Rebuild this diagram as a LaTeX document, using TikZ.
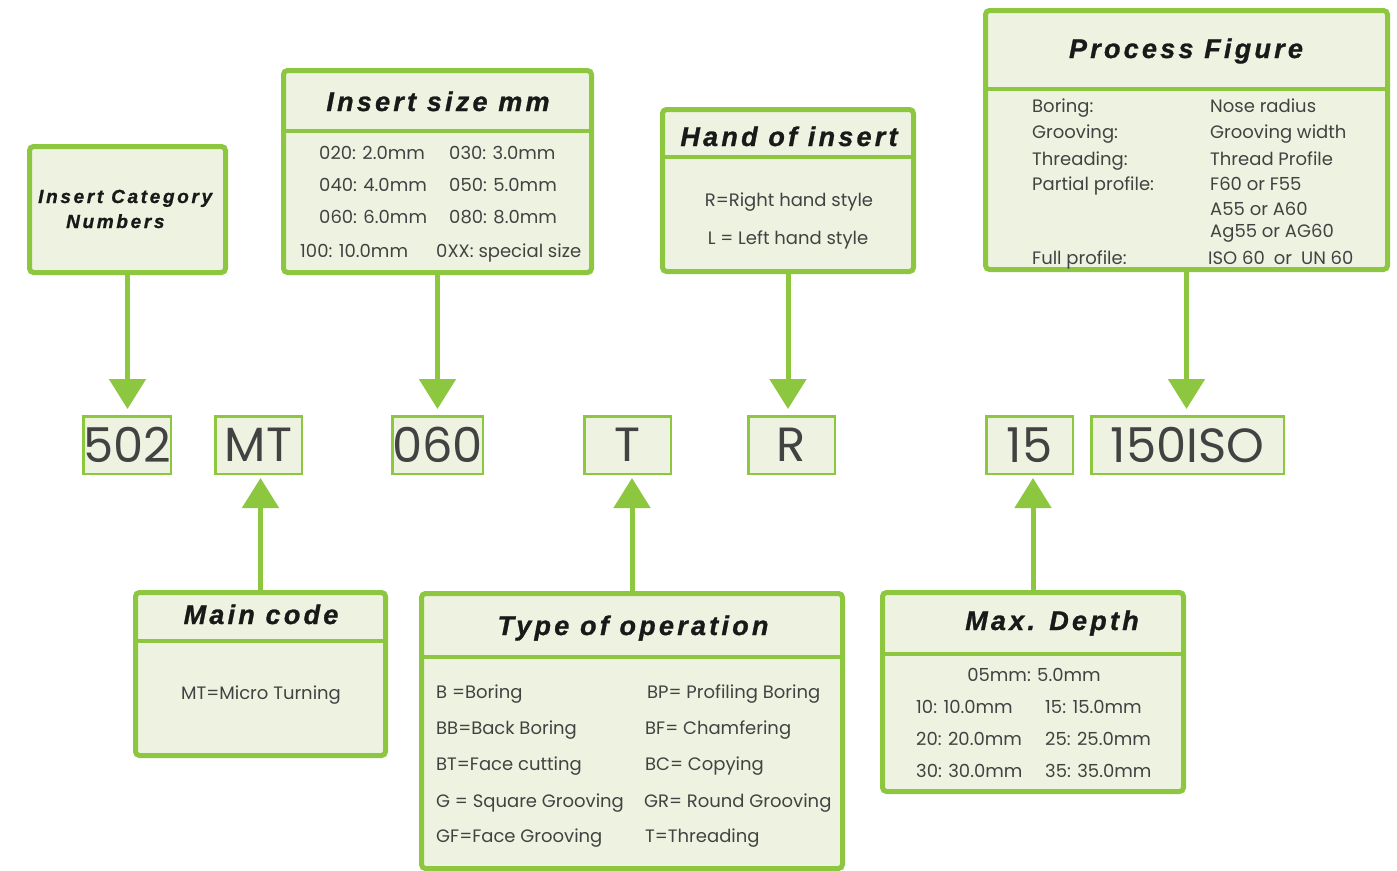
\documentclass[tikz,border=0pt]{standalone}
\usepackage{fontspec}
\setmainfont{Poppins}
\newfontfamily\titlefont[LetterSpace=12,FakeBold=1]{Liberation Sans}
\newfontfamily\smalltitlefont[LetterSpace=14,FakeBold=1]{Liberation Sans}
\usetikzlibrary{arrows.meta}
\definecolor{lgreen}{HTML}{8DC63F}
\definecolor{lfill}{HTML}{EEF3E1}
\definecolor{txt}{HTML}{424242}
\tikzset{
 bigbox/.style={draw=lgreen, fill=lfill, line width=5pt, rounded corners=4pt, anchor=north west, inner sep=0pt},
 codebox/.style={draw=lgreen, fill=lfill, line width=2.5pt, anchor=north west, inner sep=0pt, minimum height=57.5pt, font=\fontsize{48}{48}\selectfont, text=txt},
 ttl/.style={font=\titlefont\bfseries\itshape\fontsize{27}{30}\selectfont, text=black!90, anchor=base, inner sep=0pt},
 smallttl/.style={font=\smalltitlefont\bfseries\itshape\fontsize{19}{22}\selectfont, text=black!90, anchor=base west, inner sep=0pt},
 body/.style={font=\fontsize{18}{20}\selectfont, text=txt, anchor=base west, inner sep=0pt},
 bodyc/.style={font=\fontsize{18}{20}\selectfont, text=txt, anchor=base, inner sep=0pt},
 divider/.style={draw=lgreen, line width=4pt},
 arr/.style={draw=lgreen, line width=5pt, -{Triangle[width=36pt,length=30pt]}},
}
\begin{document}
\begin{tikzpicture}[x=1pt,y=-1pt]
\useasboundingbox[fill=white] (0,0) rectangle (1397,870);

% ---------- top boxes ----------
\node[bigbox, minimum width=196pt, minimum height=126pt] (cat) at (27,144) {};
\node[smallttl] (catT1) at (38,203) {Insert Category};
\node[smallttl] (catT2) at (66,228) {Numbers};

\node[bigbox, minimum width=308pt, minimum height=202pt] (size) at (281,68) {};
\draw[divider] (size.west |- 0,131) -- (size.east |- 0,131);
\node[ttl] (sizeT) at (438,111) {Insert size mm};
\node[body] (s1) at (319,159) {020: 2.0mm};
\node[body] (s2) at (449,159) {030: 3.0mm};
\node[body] (s3) at (319,191) {040: 4.0mm};
\node[body] (s4) at (449,191) {050: 5.0mm};
\node[body] (s5) at (319,223) {060: 6.0mm};
\node[body] (s6) at (449,223) {080: 8.0mm};
\node[body] (s7) at (300,257) {100: 10.0mm};
\node[body] (s8) at (436,257) {0XX: special size};

\node[bigbox, minimum width=251pt, minimum height=162pt] (hand) at (660,107) {};
\draw[divider] (hand.west |- 0,157) -- (hand.east |- 0,157);
\node[ttl] (handT) at (789,146) {Hand of insert};
\node[bodyc] (h1) at (789,206) {R=Right hand style};
\node[bodyc] (h2) at (788,244) {L = Left hand style};

\node[bigbox, minimum width=402pt, minimum height=259pt] (proc) at (983,8) {};
\draw[divider] (proc.west |- 0,89) -- (proc.east |- 0,89);
\node[ttl] (procT) at (1186,58) {Process Figure};
\node[body] (p1) at (1032,112) {Boring:};
\node[body] (p2) at (1032,138) {Grooving:};
\node[body] (p3) at (1032,165) {Threading:};
\node[body] (p4) at (1032,190) {Partial profile:};
\node[body] (p5) at (1032,264) {Full profile:};
\node[body] (q1) at (1210,112) {Nose radius};
\node[body] (q2) at (1210,138) {Grooving width};
\node[body] (q3) at (1210,165) {Thread Profile};
\node[body] (q4) at (1210,190) {F60 or F55};
\node[body] (q5) at (1210,215) {A55 or A60};
\node[body] (q6) at (1210,237) {Ag55 or AG60};
\node[body] (q7) at (1208,264) {ISO 60\enspace or\enspace UN 60};

% ---------- code boxes ----------
\node[codebox, minimum width=87.5pt] (c502) at (82,415) {502};
\node[codebox, minimum width=86.5pt] (cMT) at (214,415) {MT};
\node[codebox, minimum width=86.5pt] (c060) at (391,415) {060};
\node[codebox, minimum width=86.5pt] (cT) at (583,415) {T};
\node[codebox, minimum width=86.5pt] (cR) at (747,415) {R};
\node[codebox, minimum width=86.5pt] (c15) at (985,415) {15};
\node[codebox, minimum width=192.5pt] (cISO) at (1090,415) {150ISO};

% ---------- bottom boxes ----------
\node[bigbox, minimum width=250pt, minimum height=163pt] (main) at (133,590) {};
\draw[divider] (main.west |- 0,641) -- (main.east |- 0,641);
\node[ttl] (mainT) at (261,624) {Main code};
\node[bodyc] (m1) at (261,699) {MT=Micro Turning};

\node[bigbox, minimum width=421pt, minimum height=275pt] (op) at (419,591) {};
\draw[divider] (op.west |- 0,657) -- (op.east |- 0,657);
\node[ttl] (opT) at (633,635) {Type of operation};
\node[body] (o1) at (436,698) {B =Boring};
\node[body] (o2) at (436,734) {BB=Back Boring};
\node[body] (o3) at (436,770) {BT=Face cutting};
\node[body] (o4) at (436,807) {G = Square Grooving};
\node[body] (o5) at (436,842) {GF=Face Grooving};
\node[body] (r1) at (647,698) {BP= Profiling Boring};
\node[body] (r2) at (645,734) {BF= Chamfering};
\node[body] (r3) at (645,770) {BC= Copying};
\node[body] (r4) at (644,807) {GR= Round Grooving};
\node[body] (r5) at (645,842) {T=Threading};

\node[bigbox, minimum width=301pt, minimum height=199pt] (max) at (880,590) {};
\draw[divider] (max.west |- 0,654) -- (max.east |- 0,654);
\node[ttl] (maxT) at (1052,630) {Max. Depth};
\node[bodyc] (d0) at (1034,681) {05mm: 5.0mm};
\node[body] (d1) at (916,713) {10: 10.0mm};
\node[body] (d2) at (1045,713) {15: 15.0mm};
\node[body] (d3) at (916,745) {20: 20.0mm};
\node[body] (d4) at (1045,745) {25: 25.0mm};
\node[body] (d5) at (916,777) {30: 30.0mm};
\node[body] (d6) at (1045,777) {35: 35.0mm};

% ---------- connectors ----------
\draw[arr, shorten >=6pt] (cat.south) -- (cat.south |- c502.north);
\draw[arr, shorten >=6pt] (size.south) -- (size.south |- c060.north);
\draw[arr, shorten >=6pt] (hand.south) -- (hand.south |- cR.north);
\draw[arr, shorten >=6pt] (proc.south) -- (proc.south |- cISO.north);
\draw[arr, shorten >=3pt] (main.north) -- (main.north |- cMT.south);
\draw[arr, shorten >=3pt] (op.north) -- (op.north |- cT.south);
\draw[arr, shorten >=3pt] (max.north) -- (max.north |- c15.south);
\end{tikzpicture}
\end{document}
